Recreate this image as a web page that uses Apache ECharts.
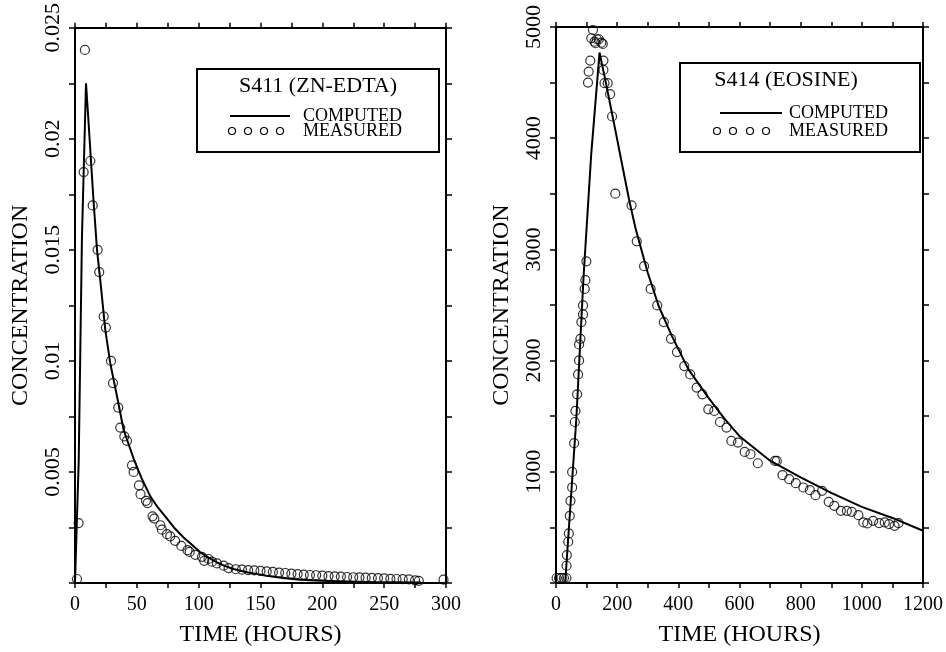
<!DOCTYPE html>
<html>
<head>
	<meta charset="UTF-8">
	<title>S411 / S414</title>
	<script src="https://cdn.jsdelivr.net/npm/echarts@6/dist/echarts.min.js"></script>
	<style>
		html, body { margin: 0; padding: 0; background: #fff; }
		#container { width: 946px; height: 652px; }
	</style>
</head>
<body>
<div id="container"></div>
<script>
	// S411 (ZN-EDTA) : [hours, concentration]
	var znMeasured = [
		[1.6, 0.00018], [2.9, 0.0027], [7, 0.0185], [8, 0.024], [12.4, 0.019], [14.3, 0.017],
		[18.3, 0.015], [19.6, 0.014], [23.2, 0.012], [25, 0.0115], [29.1, 0.010], [30.7, 0.009],
		[35, 0.0079], [36.6, 0.0070], [39.9, 0.0066], [42, 0.0064], [46.1, 0.0053], [47.4, 0.0050],
		[51.7, 0.0044], [53, 0.0040], [57.4, 0.0037], [58.7, 0.0036], [62.7, 0.0030], [64.1, 0.0029],
		[69, 0.0026], [70.3, 0.0024], [74.4, 0.0022], [77, 0.0021], [81, 0.0019], [86, 0.00167],
		[91, 0.00148], [92.7, 0.0014], [97.3, 0.00127], [102.7, 0.00118], [104.5, 0.0010], [108, 0.00108],
		[110.8, 0.00096], [114.8, 0.00088], [120.2, 0.00078], [124.2, 0.00067], [130, 0.00062],
		[135, 0.00060], [140, 0.00058], [145, 0.00057], [150, 0.00055], [155, 0.00052], [160, 0.00050],
		[165, 0.00047], [170, 0.00045], [175, 0.00042], [180, 0.00040], [185, 0.00038], [190, 0.00036],
		[195, 0.00035], [200, 0.00033], [205, 0.00031], [210, 0.00030], [215, 0.00029], [220, 0.00027],
		[225, 0.00026], [230, 0.00025], [235, 0.00024], [240, 0.00023], [245, 0.00022], [250, 0.00021],
		[255, 0.00019], [260, 0.00018], [265, 0.00017], [270, 0.00016], [275, 0.00012], [278, 0.0001],
		[298, 0.00015]
	];
	var znComputed = [
		[0, 0], [0.8, 0], [3, 0.0055], [5.6, 0.0155], [8.9, 0.0225], [11, 0.0207], [15, 0.0172],
		[17.8, 0.0150], [20.5, 0.0136], [24.5, 0.0114], [28.5, 0.0099], [34, 0.0084], [39.3, 0.0069],
		[47.4, 0.0056], [54, 0.0047], [60.9, 0.0039], [67, 0.0034], [74.4, 0.0029], [80, 0.0025],
		[87.8, 0.00205], [95, 0.0017], [101.3, 0.00138], [108, 0.00114], [114.8, 0.00093],
		[121, 0.00077], [128.2, 0.00063], [140, 0.00047], [155, 0.00033], [168, 0.00023],
		[182, 0.00015], [195, 0.00011], [209, 0.00008], [240, 0.00004], [280, 0.00002]
	];

	// S414 (EOSINE) : [hours, concentration]
	var eoMeasured = [
		[2, 45], [10, 45], [18, 45], [26, 45], [34, 45],
		[34.5, 155], [35.5, 251], [40, 371], [42, 446], [45, 604], [47.4, 739], [52.8, 859], [52.8, 999],
		[59.3, 1257], [61.5, 1448], [63.6, 1547], [69, 1697], [72.2, 1876], [75.5, 2002], [75.5, 2145],
		[79.8, 2196], [83, 2346], [88.4, 2415], [88.4, 2496], [93.8, 2645], [96, 2723], [99.3, 2893],
		[104.6, 4500], [106.8, 4599], [112, 4698], [115.4, 4899], [120.8, 4973], [126, 4868],
		[129.4, 4854], [133.6, 4890], [140, 4890], [148, 4859], [153, 4848], [155, 4698], [155, 4614],
		[158.5, 4495], [169, 4495], [177, 4396], [183.4, 4195], [194, 3501], [247, 3396], [264, 3073],
		[288, 2849], [309.5, 2645], [331, 2496], [352.5, 2346], [376, 2196], [395.6, 2077],
		[419.5, 1951], [438.9, 1876], [460, 1757], [478.7, 1697], [498, 1562], [517.5, 1547],
		[536, 1448], [557.5, 1398], [573.5, 1278], [595, 1263], [617, 1179], [636, 1158], [660, 1077],
		[716, 1098], [722, 1098], [740.7, 970], [762.4, 934], [784, 898], [808.6, 859], [830, 835],
		[848.4, 790], [870, 829], [891.7, 730], [910, 694], [931.5, 649], [951, 649], [967, 640],
		[988.8, 610], [1005, 545], [1018, 536], [1037, 559], [1056.7, 539], [1075, 545], [1089, 530],
		[1107, 514], [1120, 539]
	];
	var eoComputed = [
		[30, 0], [36, 0], [67, 1500], [90, 2750], [115, 3850], [142.3, 4770], [160, 4540], [196, 4046],
		[220, 3710], [239, 3447], [261, 3178], [300, 2790], [336, 2489], [379, 2220], [433, 1921],
		[500, 1660], [550, 1480], [600, 1320], [700, 1100], [800, 950], [900, 810], [1000, 685],
		[1100, 585], [1200, 470]
	];

	var znX = { min: 0, max: 300, step: 50 };
	var znY = { min: 0, max: 0.025, step: 0.005 };
	var eoX = { min: 0, max: 1200, step: 200 };
	var eoY = { min: 0, max: 5000, step: 1000 };

	var FONT = '"Liberation Serif", "Times New Roman", serif';
	var INK = '#000';

	function plain(v) { return String(+v.toFixed(4)); }

	function xAxisPair(grid, r) {
		var base = {
			gridIndex: grid, type: 'value', min: r.min, max: r.max, interval: r.step,
			splitLine: { show: false },
			axisLine: { show: true, onZero: false, lineStyle: { color: INK, width: 2 } },
			axisTick: { show: true, length: 5, lineStyle: { color: INK, width: 1.5 } },
			minorTick: { show: true, splitNumber: 2, length: 5, lineStyle: { color: INK, width: 1.5 } }
		};
		var bottom = Object.assign({}, base, {
			position: 'bottom',
			axisLabel: { color: INK, fontFamily: FONT, fontSize: 20, margin: 12, formatter: plain },
			name: 'TIME (HOURS)', nameLocation: 'middle', nameGap: 40,
			nameTextStyle: { color: INK, fontFamily: FONT, fontSize: 24 }
		});
		var top = Object.assign({}, base, { position: 'top', axisLabel: { show: false } });
		return [bottom, top];
	}

	function yAxisPair(grid, r) {
		var base = {
			gridIndex: grid, type: 'value', min: r.min, max: r.max, interval: r.step,
			splitLine: { show: false },
			axisLine: { show: true, onZero: false, lineStyle: { color: INK, width: 2 } },
			axisTick: { show: true, length: 6, lineStyle: { color: INK, width: 1.5 } },
			minorTick: { show: true, splitNumber: 2, length: 6, lineStyle: { color: INK, width: 1.5 } }
		};
		var left = Object.assign({}, base, {
			position: 'left',
			axisLabel: {
				color: INK, fontFamily: FONT, fontSize: 22, rotate: 90, margin: 11,
				formatter: function (v) { return v === 0 ? '' : plain(v); }
			},
			name: 'CONCENTRATION', nameLocation: 'middle', nameGap: 42, nameRotate: 90,
			nameTextStyle: { color: INK, fontFamily: FONT, fontSize: 24 }
		});
		var right = Object.assign({}, base, { position: 'right', axisLabel: { show: false } });
		return [left, right];
	}

	function legendBox(o) {
		var ts = function (text, x, y, size, align) {
			return { type: 'text', x: x, y: y, style: { text: text, fill: INK, font: size + 'px ' + FONT, align: align, verticalAlign: 'middle' } };
		};
		var items = [
			{ type: 'rect', shape: { x: o.x, y: o.y, width: o.w, height: o.h }, style: { fill: '#fff', stroke: INK, lineWidth: 2 } },
			ts(o.title, o.titleX, o.titleY, 22, 'center'),
			{ type: 'line', shape: { x1: o.lineX1, y1: o.compY, x2: o.lineX2, y2: o.compY }, style: { stroke: INK, lineWidth: 2 } },
			ts('COMPUTED', o.textRight, o.compY, 18, 'right'),
			ts('MEASURED', o.textRight, o.measY, 18, 'right')
		];
		o.dots.forEach(function (cx) {
			items.push({ type: 'circle', shape: { cx: cx, cy: o.measY, r: 3.5 }, style: { fill: 'none', stroke: INK, lineWidth: 1.2 } });
		});
		return { type: 'group', children: items, z: 100 };
	}

	var dom = document.getElementById('container');
	var myChart = echarts.init(dom, null, { renderer: 'canvas' });

	var xs = xAxisPair(0, znX).concat(xAxisPair(1, eoX));
	var ys = yAxisPair(0, znY).concat(yAxisPair(1, eoY));

	function lineSeries(x, y, data) {
		return { type: 'line', xAxisIndex: x, yAxisIndex: y, data: data, showSymbol: false, symbol: 'none',
			lineStyle: { color: INK, width: 2 }, z: 3, animation: false };
	}
	function dotSeries(x, y, data) {
		return { type: 'scatter', xAxisIndex: x, yAxisIndex: y, data: data, symbol: 'circle', symbolSize: 9,
			itemStyle: { color: 'rgba(0,0,0,0)', borderColor: INK, borderWidth: 1.2 }, z: 4, animation: false };
	}

	var option = {
		backgroundColor: '#fff',
		animation: false,
		grid: [
			{ left: 75, top: 27, width: 371, height: 557 },
			{ left: 556, top: 27, width: 371, height: 557 }
		],
		xAxis: xs,
		yAxis: ys,
		series: [
			lineSeries(0, 0, znComputed),
			dotSeries(0, 0, znMeasured),
			lineSeries(2, 2, eoComputed),
			dotSeries(2, 2, eoMeasured)
		],
		graphic: [
			legendBox({ x: 197, y: 69, w: 242, h: 83, title: 'S411 (ZN-EDTA)', titleX: 318, titleY: 86,
				lineX1: 230, lineX2: 290, compY: 116, measY: 131, textRight: 402, dots: [232, 248, 264, 280] }),
			legendBox({ x: 680, y: 63, w: 240, h: 89, title: 'S414 (EOSINE)', titleX: 786, titleY: 80,
				lineX1: 720, lineX2: 782, compY: 113, measY: 131, textRight: 888, dots: [717, 733, 750, 766] })
		]
	};

	if (option && typeof option === "object") {
		myChart.setOption(option, true);
	}
</script>
</body>
</html>
